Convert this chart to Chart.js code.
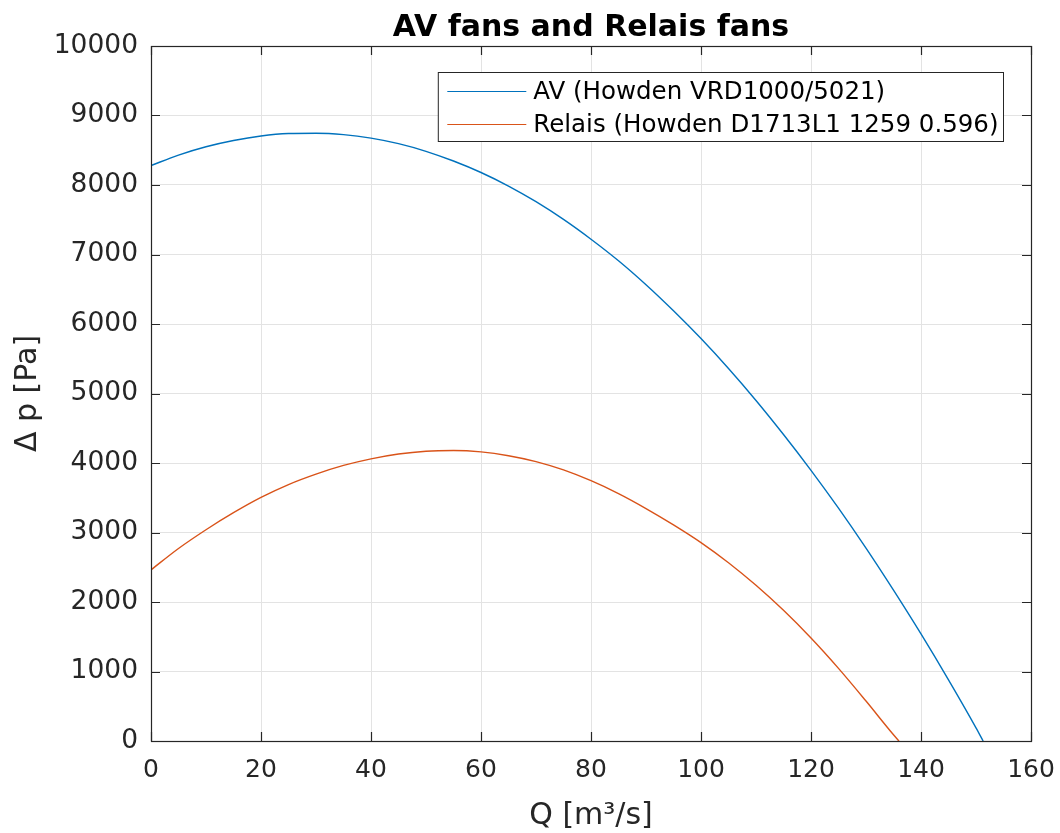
<!DOCTYPE html>
<html>
<head>
<meta charset="utf-8">
<title>AV fans and Relais fans</title>
<script src="https://cdn.jsdelivr.net/npm/chart.js@4.4.1/dist/chart.umd.min.js"></script>
<style>
    html, body { margin: 0; padding: 0; background: #fff; }
    #wrap { width: 1060px; height: 833px; }
</style>
</head>
<body>
<div id="wrap"><canvas id="fanChart" width="1060" height="833"></canvas></div>
<script>
// Fan curves: flow Q [m3/s] vs. pressure rise [Pa]
const flowAV = [0, 5, 10, 15, 20, 25, 30, 35, 40, 45, 50, 55, 60, 65, 70, 75, 80, 85, 90, 95,
    100, 105, 110, 115, 120, 125, 130, 135, 140, 145, 150, 151.3];
const pressureAV = [8280, 8430, 8550, 8640, 8705, 8740, 8745, 8725, 8675, 8595, 8485, 8345, 8180, 7985, 7760, 7505, 7220, 6910, 6565, 6190,
    5790, 5360, 4900, 4410, 3895, 3350, 2775, 2170, 1540, 880, 190, 0];

const flowRelais = [0, 5, 10, 15, 20, 25, 30, 35, 40, 45, 50, 55, 60, 65, 70, 75, 80, 85, 90, 95,
    100, 105, 110, 115, 120, 125, 130, 135, 136];
const pressureRelais = [2462, 2770, 3040, 3285, 3505, 3690, 3840, 3965, 4060, 4130, 4170, 4180, 4160, 4105, 4020, 3900, 3745, 3560, 3345, 3110,
    2855, 2565, 2240, 1880, 1482, 1045, 575, 90, 0];

const seriesLabels = ['AV (Howden VRD1000/5021)', 'Relais (Howden D1713L1 1259 0.596)'];
const seriesColors = ['#0072BD', '#D95319'];

const xTicks = [0, 20, 40, 60, 80, 100, 120, 140, 160];
const yTicks = [0, 1000, 2000, 3000, 4000, 5000, 6000, 7000, 8000, 9000, 10000];

const chartTitle = 'AV fans and Relais fans';
const axisColor = '#262626';
const gridColor = '#e3e3e3';

const toPoints = (xs, ys) => xs.map((x, i) => ({ x, y: ys[i] }));

// title over the axes, box around the plot, inward tick marks on all four sides,
// and the legend inside the top right corner
const matlabAxes = {
    id: 'matlabAxes',
    afterDraw(chart) {
        const { ctx, chartArea: a, scales: { x, y } } = chart;
        const tick = 9;

        ctx.save();
        ctx.fillStyle = '#000';
        ctx.font = 'bold 30px "DejaVu Sans"';
        ctx.textAlign = 'center';
        ctx.textBaseline = 'alphabetic';
        ctx.fillText(chartTitle, (a.left + a.right) / 2, a.top - 10);

        ctx.strokeStyle = axisColor;
        ctx.lineWidth = 1.2;
        ctx.beginPath();
        x.ticks.forEach((t) => {
            const px = Math.round(x.getPixelForValue(t.value)) + 0.5;
            ctx.moveTo(px, a.bottom); ctx.lineTo(px, a.bottom - tick);
            ctx.moveTo(px, a.top); ctx.lineTo(px, a.top + tick);
        });
        y.ticks.forEach((t) => {
            const py = Math.round(y.getPixelForValue(t.value)) + 0.5;
            ctx.moveTo(a.left, py); ctx.lineTo(a.left + tick, py);
            ctx.moveTo(a.right, py); ctx.lineTo(a.right - tick, py);
        });
        ctx.stroke();
        ctx.strokeRect(Math.round(a.left) + 0.5, Math.round(a.top) + 0.5, Math.round(a.width), Math.round(a.height));

        // legend
        ctx.font = '24.5px "DejaVu Sans"';
        ctx.textAlign = 'left';
        const textW = Math.max(...seriesLabels.map((s) => ctx.measureText(s).width));
        const boxRight = Math.round(a.right) - 28 + 0.5;
        const boxTop = Math.round(a.top) + 26 + 0.5;
        const boxW = 95 + textW + 5;
        const boxH = 69;
        const boxLeft = boxRight - boxW;

        ctx.fillStyle = '#fff';
        ctx.fillRect(boxLeft, boxTop, boxW, boxH);
        ctx.strokeStyle = axisColor;
        ctx.lineWidth = 1;
        ctx.strokeRect(boxLeft, boxTop, boxW, boxH);

        ctx.textBaseline = 'middle';
        chart.data.datasets.forEach((ds, i) => {
            const rowY = boxTop + 19 + i * 33;
            ctx.strokeStyle = ds.borderColor;
            ctx.lineWidth = 1.2;
            ctx.beginPath();
            ctx.moveTo(boxLeft + 9, rowY);
            ctx.lineTo(boxLeft + 88, rowY);
            ctx.stroke();
            ctx.fillStyle = '#000';
            ctx.fillText(ds.label, boxLeft + 95, rowY + 1);
        });
        ctx.restore();
    }
};

new Chart(document.getElementById('fanChart'), {
    type: 'scatter',
    data: {
        datasets: [
            {
                label: seriesLabels[0],
                data: toPoints(flowAV, pressureAV),
                borderColor: seriesColors[0],
                backgroundColor: seriesColors[0]
            },
            {
                label: seriesLabels[1],
                data: toPoints(flowRelais, pressureRelais),
                borderColor: seriesColors[1],
                backgroundColor: seriesColors[1]
            }
        ]
    },
    options: {
        responsive: false,
        animation: false,
        devicePixelRatio: 1,
        layout: { padding: { left: 0, right: 29, top: 46, bottom: 0 } },
        elements: {
            point: { radius: 0, hoverRadius: 0 },
            line: { borderWidth: 1.4, cubicInterpolationMode: 'monotone' }
        },
        datasets: { scatter: { showLine: true } },
        plugins: {
            legend: { display: false },
            tooltip: { enabled: false },
            title: { display: false }
        },
        scales: {
            x: {
                type: 'linear',
                min: 0,
                max: 160,
                afterBuildTicks: (axis) => { axis.ticks = xTicks.map((v) => ({ value: v })); },
                afterFit: (axis) => {
                    axis.height = 92;
                    axis.paddingLeft = 0;
                    axis.paddingRight = 0;
                },
                grid: { color: gridColor, drawTicks: false },
                border: { display: false },
                ticks: {
                    color: axisColor,
                    padding: 14,
                    maxRotation: 0,
                    font: { family: 'DejaVu Sans', size: 25 }
                },
                title: {
                    display: true,
                    text: 'Q [m³/s]',
                    color: axisColor,
                    font: { family: 'DejaVu Sans', size: 30, lineHeight: 1 },
                    padding: { top: 0, bottom: 2 }
                }
            },
            y: {
                type: 'linear',
                min: 0,
                max: 10000,
                afterBuildTicks: (axis) => { axis.ticks = yTicks.map((v) => ({ value: v })); },
                afterFit: (axis) => { axis.width = 151; },
                grid: { color: gridColor, drawTicks: false },
                border: { display: false },
                ticks: {
                    color: axisColor,
                    padding: 13,
                    font: { family: 'DejaVu Sans', size: 26.5 },
                    callback: (v) => String(v)
                },
                title: {
                    display: true,
                    text: 'Δ p [Pa]',
                    color: axisColor,
                    font: { family: 'DejaVu Sans', size: 30, lineHeight: 1 },
                    padding: { top: 13, bottom: 0 }
                }
            }
        }
    },
    plugins: [matlabAxes]
});
</script>
</body>
</html>
